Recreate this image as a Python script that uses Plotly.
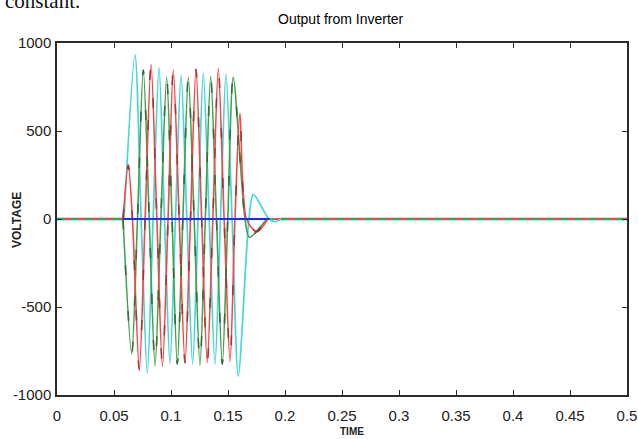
import plotly.graph_objects as go

# ---------------- data ----------------
red_t = [0.0, 0.0579, 0.0625, 0.0662, 0.0722, 0.0773, 0.0825, 0.0876, 0.0925,
         0.0974, 0.1020, 0.1072, 0.1123, 0.1171, 0.1219, 0.1269, 0.1318, 0.1367,
         0.1415, 0.1466, 0.1518, 0.1561, 0.1605, 0.1662, 0.1752, 0.1851, 0.5]
red_v = [0, 0, 307, 0, -858, 0, 879, 0, -839,
         0, 847, 0, -816, 0, 850, 0, -816, 0,
         856, 0, -810, 0, 600, 0, -72, 0, 0]

green_t = [0.0, 0.0579, 0.0655, 0.0706, 0.0757, 0.0809, 0.0860, 0.0911, 0.0962,
           0.1009, 0.1055, 0.1104, 0.1152, 0.1203, 0.1254, 0.1301, 0.1348, 0.1399,
           0.1450, 0.1498, 0.1546, 0.1649, 0.1687, 0.1839, 0.5]
green_v = [0, 0, -767, 0, 847, 0, -835, 0, 805,
           0, -824, 0, 805, 0, -830, 0, 809, 0,
           -824, 0, 805, 0, -104, 0, 0]

cyan_t = [0.0, 0.0588, 0.0684, 0.0738, 0.0792, 0.0843, 0.0895, 0.0943, 0.0991,
          0.1039, 0.1088, 0.1139, 0.1190, 0.1237, 0.1283, 0.1335, 0.1386, 0.1434,
          0.1482, 0.1536, 0.1590, 0.1684, 0.1722, 0.1860, 0.1912, 0.1965, 0.5]
cyan_v = [0, 0, 932, 0, -877, 0, 860, 0, -820,
          0, 818, 0, -824, 0, 828, 0, -824, 0,
          824, 0, -892, 0, 140, 0, -15, 0, 0]

blue_t = [0.0579, 0.1868]
blue_v = [0, 0]

x_ticks = [0, 0.05, 0.1, 0.15, 0.2, 0.25, 0.3, 0.35, 0.4, 0.45, 0.5]
x_labels = ["0", "0.05", "0.1", "0.15", "0.2", "0.25", "0.3", "0.35", "0.4", "0.45", "0.5"]
y_ticks = [-1000, -500, 0, 500, 1000]
y_labels = ["-1000", "-500", "0", "500", "1000"]

title_text = "Output from Inverter"
x_title = "TIME"
y_title = "VOLTAGE"
doc_text = "constant."

# ---------------- styling ----------------
RED = "#f4474a"
GREEN = "#3fa34d"
CYAN = "#45d6d6"
BLUE = "#1a2cff"
DARK_RED = "#a83535"
DARK_GREEN = "#356f38"
NARROW = "Liberation Sans Narrow, Arial Narrow, Liberation Sans, Arial"

fig = go.Figure()


def flat(t, v, color, width, dash="solid"):
    fig.add_trace(go.Scatter(x=t[:2] + [None] + t[-2:], y=v[:2] + [None] + v[-2:],
                             mode="lines", line=dict(color=color, width=width, dash=dash),
                             hoverinfo="skip"))


def osc(t, v, color, width=1.5, dash="solid"):
    fig.add_trace(go.Scatter(x=t[1:-1], y=v[1:-1], mode="lines",
                             line=dict(color=color, width=width, dash=dash,
                                       shape="spline", smoothing=0.8),
                             hoverinfo="skip"))


# flat parts: cyan solid under, red solid, green dashed on top
flat(cyan_t, cyan_v, CYAN, 3.2)
flat(red_t, red_v, RED, 1.8)
flat(green_t, green_v, GREEN, 1.8, "7px,7px")

# oscillating parts
osc(cyan_t, cyan_v, CYAN, 1.7)
osc(green_t, green_v, GREEN, 1.6)
osc(red_t, red_v, RED, 1.6)
osc(green_t, green_v, DARK_GREEN, 1.6, "10px,36px")
osc(red_t, red_v, DARK_RED, 1.6, "10px,40px")

fig.add_trace(go.Scatter(x=blue_t, y=blue_v, mode="lines",
                         line=dict(color=BLUE, width=1.8), hoverinfo="skip"))

L, R, T, B = 57, 11, 43, 44
W, H = 638, 439
pw, ph = W - L - R, H - T - B


def px(xp):
    return (xp - L) / pw


def py(yp):
    return (H - B - yp) / ph


axis_common = dict(showgrid=False, zeroline=False, showline=True,
                   linecolor="#2a2a2a", linewidth=1.5, ticks="inside",
                   ticklen=5, tickcolor="#2a2a2a", mirror="ticks",
                   automargin=False,
                   tickfont=dict(family=NARROW, size=15, color="#222"))

fig.update_layout(
    width=W, height=H,
    margin=dict(l=L, r=R, t=T, b=B),
    plot_bgcolor="white", paper_bgcolor="white",
    showlegend=False,
    xaxis=dict(range=[0, 0.5], tickvals=x_ticks, ticktext=x_labels,
               ticklabelstandoff=6, **axis_common),
    yaxis=dict(range=[-1000, 1000], tickvals=y_ticks, ticktext=y_labels,
               ticklabelstandoff=1, **axis_common),
    annotations=[
        dict(text=title_text, xref="paper", yref="paper", x=px(341), y=py(19),
             xanchor="center", yanchor="middle", showarrow=False,
             font=dict(family=NARROW, size=14, color="#000")),
        dict(text="<b>" + y_title + "</b>", xref="paper", yref="paper",
             x=px(17), y=py(220), xanchor="center", yanchor="middle",
             textangle=-90, showarrow=False,
             font=dict(family="Liberation Sans, Arial", size=12, color="#222")),
        dict(text="<b>" + x_title + "</b>", xref="paper", yref="paper",
             x=px(352), y=py(431), xanchor="center", yanchor="middle",
             showarrow=False,
             font=dict(family=NARROW, size=10, color="#222")),
        dict(text=doc_text, xref="paper", yref="paper", x=px(82), y=py(15),
             xanchor="right", yanchor="bottom", showarrow=False,
             font=dict(family="Liberation Serif, Times New Roman", size=21, color="#111")),
    ],
)

fig.write_html("out.html",
               config={"displayModeBar": False},
               post_script="document.body.style.margin='0';document.body.style.padding='0';")
